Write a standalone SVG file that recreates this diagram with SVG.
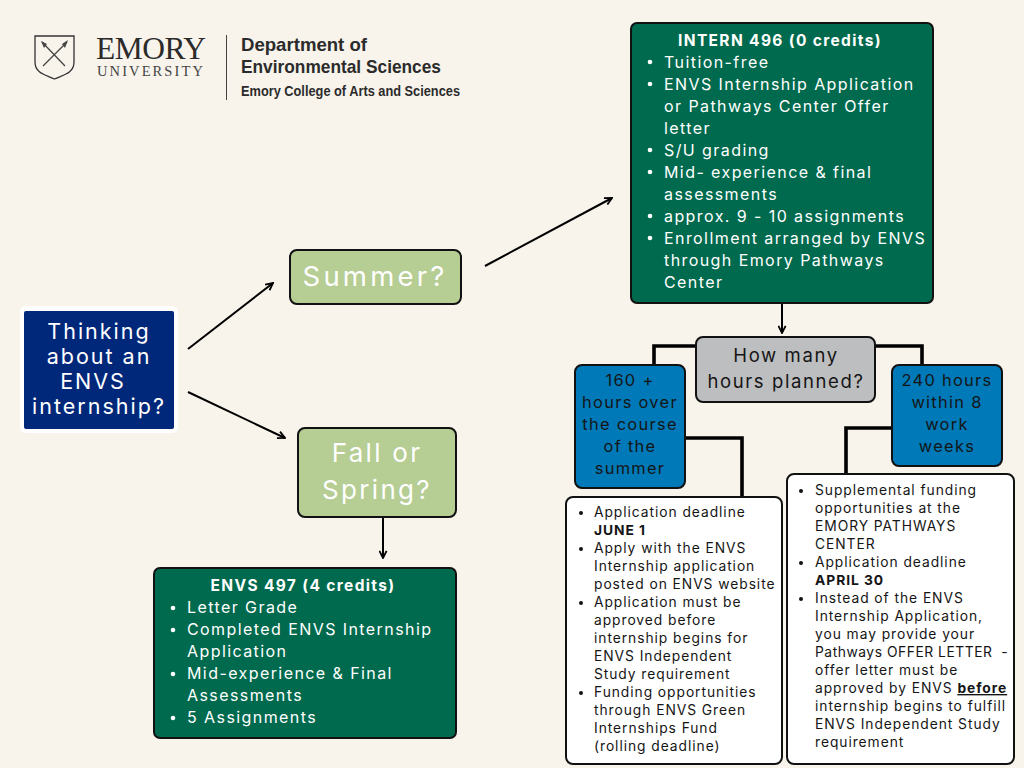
<svg xmlns="http://www.w3.org/2000/svg" width="1024" height="768" viewBox="0 0 1024 768">
<style>
text{font-family:"Inter","Noto Sans",sans-serif}
.c{text-anchor:middle}
.box{stroke:#111;stroke-width:2}
.wht{fill:#fff}
.t13{font-size:13.8px;letter-spacing:.95px;fill:#151515}
.t16{font-size:16px;letter-spacing:1.42px;fill:#fff}
.tb{font-size:15.5px;font-weight:700;letter-spacing:1.35px;fill:#fff}
.t18{font-size:18.5px;letter-spacing:1.6px;fill:#151515}
.t16k{font-size:16.4px;letter-spacing:1.3px;fill:#151515}
.ln{fill:none;stroke:#000;stroke-width:2}
.th{fill:none;stroke:#000;stroke-width:3.6}
.b{font-weight:700}
.logo{font-family:"Liberation Sans",sans-serif;font-weight:700;fill:#2b2b2b}
.ser{font-family:"Liberation Serif",serif}
</style>
<defs>
<marker id="a" viewBox="0 0 10 10" refX="9" refY="5" markerWidth="9" markerHeight="9" markerUnits="userSpaceOnUse" orient="auto"><path d="M1 1L9 5L1 9" fill="none" stroke="#000" stroke-width="2"/></marker>
</defs>
<rect width="1024" height="768" fill="#f8f4ec"/>
<g id="logo">
<path d="M35 36H74V62C74 74 62 75 54.500 79C47 75 35 74 35 62Z" fill="none" stroke="#333" stroke-width="1.300"/>
<path d="M42 42L65 66M67 42L43 66" fill="none" stroke="#444" stroke-width="1.300"/>
<path d="M41 41L47 44L44 48ZM68 40L62 44L65 48Z" fill="#444"/>
<text class="ser" x="96" y="59" font-size="31.500" letter-spacing="-.5" fill="#2b2b2b">EMORY</text>
<text class="ser" x="97" y="76" font-size="14.500" letter-spacing="2.100" fill="#444">UNIVERSITY</text>
<path d="M226.500 35V100" stroke="#444" stroke-width="1"/>
<text class="logo" x="241" y="51" font-size="19" textLength="126" lengthAdjust="spacingAndGlyphs">Department of</text>
<text class="logo" x="241" y="73" font-size="19" textLength="200" lengthAdjust="spacingAndGlyphs">Environmental Sciences</text>
<text class="logo" x="241" y="96" font-size="15.500" textLength="219" lengthAdjust="spacingAndGlyphs">Emory College of Arts and Sciences</text>
</g>
<g id="connectors">
<path class="ln" d="M188 349L273 283" marker-end="url(#a)"/>
<path class="ln" d="M188 392L285 438" marker-end="url(#a)"/>
<path class="ln" d="M485 266L612 198" marker-end="url(#a)"/>
<path class="ln" d="M383 517V558" marker-end="url(#a)"/>
<path class="ln" d="M782 304V333" marker-end="url(#a)"/>
<path class="th" d="M696 346H654V364"/>
<path class="th" d="M876 346H922V364"/>
<path class="th" d="M685 438H742V497"/>
<path class="th" d="M892 428H846V473"/>
</g>
<g id="start">
<rect x="20" y="306" width="158" height="127" rx="6" fill="#fff"/>
<rect x="24" y="311" width="150" height="118" rx="2" fill="#00287a"/>
<g class="wht" font-size="21.500" letter-spacing="2" text-anchor="middle">
<text x="99" y="339">Thinking</text>
<text x="99" y="364">about an</text>
<text x="93" y="389">ENVS</text>
<text x="99" y="414">internship?</text>
</g>
</g>
<g id="summer">
<rect class="box" x="290" y="250" width="171" height="54" rx="7" fill="#b6cd94"/>
<text class="c wht" x="375" y="286" font-size="27.500" letter-spacing="3.200">Summer?</text>
</g>
<g id="fall">
<rect class="box" x="298" y="428" width="158" height="89" rx="7" fill="#b6cd94"/>
<text class="c wht" x="377" y="462" font-size="26" letter-spacing="2.300">Fall or</text>
<text class="c wht" x="377" y="499" font-size="26" letter-spacing="2.300">Spring?</text>
</g>
<g id="envs497">
<rect class="box" x="154" y="568" width="302" height="170" rx="6" fill="#006a4e"/>
<text class="c tb" x="303" y="591">ENVS 497 (4 credits)</text>
<g class="t16">
<circle class="wht" cx="173" cy="608" r="2.300"/><text x="187" y="613">Letter Grade</text>
<circle class="wht" cx="173" cy="630" r="2.300"/><text x="187" y="635">Completed ENVS Internship</text>
<text x="187" y="657">Application</text>
<circle class="wht" cx="173" cy="674" r="2.300"/><text x="187" y="679">Mid-experience &amp; Final</text>
<text x="187" y="701">Assessments</text>
<circle class="wht" cx="173" cy="718" r="2.300"/><text x="187" y="723">5 Assignments</text>
</g>
</g>
<g id="intern496">
<rect class="box" x="631" y="23" width="302" height="280" rx="6" fill="#006a4e"/>
<text class="c tb" x="780" y="46">INTERN 496 (0 credits)</text>
<g class="t16">
<circle class="wht" cx="650" cy="62" r="2.300"/><text x="664" y="68">Tuition-free</text>
<circle class="wht" cx="650" cy="84" r="2.300"/><text x="664" y="90">ENVS Internship Application</text>
<text x="664" y="112">or Pathways Center Offer</text>
<text x="664" y="134">letter</text>
<circle class="wht" cx="650" cy="150" r="2.300"/><text x="664" y="156">S/U grading</text>
<circle class="wht" cx="650" cy="172" r="2.300"/><text x="664" y="178">Mid- experience &amp; final</text>
<text x="664" y="200">assessments</text>
<circle class="wht" cx="650" cy="216" r="2.300"/><text x="664" y="222">approx. 9 - 10 assignments</text>
<circle class="wht" cx="650" cy="238" r="2.300"/><text x="664" y="244">Enrollment arranged by ENVS</text>
<text x="664" y="266">through Emory Pathways</text>
<text x="664" y="288">Center</text>
</g>
</g>
<g id="hours">
<rect class="box" x="696" y="337" width="179" height="65" rx="7" fill="#bdbec0"/>
<text class="c t18" x="786" y="362">How many</text>
<text class="c t18" x="786" y="388">hours planned?</text>
</g>
<g id="h160">
<rect class="box" x="575" y="365" width="110" height="123" rx="7" fill="#0079b8"/>
<g class="c t16k">
<text x="630" y="386">160 +</text>
<text x="630" y="408">hours over</text>
<text x="630" y="430">the course</text>
<text x="630" y="452">of the</text>
<text x="630" y="474">summer</text>
</g>
</g>
<g id="h240">
<rect class="box" x="892" y="365" width="110" height="101" rx="7" fill="#0079b8"/>
<g class="c t16k">
<text x="947" y="386">240 hours</text>
<text x="947" y="408">within 8</text>
<text x="947" y="430">work</text>
<text x="947" y="452">weeks</text>
</g>
</g>
<g id="details160">
<rect class="box" x="566" y="497" width="216" height="267" rx="7" fill="#fff"/>
<g class="t13">
<circle cx="581" cy="513" r="2" fill="#111"/><text x="594" y="517">Application deadline</text>
<text class="b" x="594" y="535">JUNE 1</text>
<circle cx="581" cy="549" r="2" fill="#111"/><text x="594" y="553">Apply with the ENVS</text>
<text x="594" y="571">Internship application</text>
<text x="594" y="589">posted on ENVS website</text>
<circle cx="581" cy="603" r="2" fill="#111"/><text x="594" y="607">Application must be</text>
<text x="594" y="625">approved before</text>
<text x="594" y="643">internship begins for</text>
<text x="594" y="661">ENVS Independent</text>
<text x="594" y="679">Study requirement</text>
<circle cx="581" cy="693" r="2" fill="#111"/><text x="594" y="697">Funding opportunities</text>
<text x="594" y="715">through ENVS Green</text>
<text x="594" y="733">Internships Fund</text>
<text x="594" y="751">(rolling deadline)</text>
</g>
</g>
<g id="details240">
<rect class="box" x="787" y="474" width="227" height="290" rx="7" fill="#fff"/>
<g class="t13">
<circle cx="801" cy="491" r="2" fill="#111"/><text x="815" y="495">Supplemental funding</text>
<text x="815" y="513">opportunities at the</text>
<text x="815" y="531">EMORY PATHWAYS</text>
<text x="815" y="549">CENTER</text>
<circle cx="801" cy="563" r="2" fill="#111"/><text x="815" y="567">Application deadline</text>
<text class="b" x="815" y="585">APRIL 30</text>
<circle cx="801" cy="599" r="2" fill="#111"/><text x="815" y="603">Instead of the ENVS</text>
<text x="815" y="621">Internship Application,</text>
<text x="815" y="639">you may provide your</text>
<text x="815" y="657" xml:space="preserve" style="letter-spacing:.55px">Pathways OFFER LETTER  -</text>
<text x="815" y="675">offer letter must be</text>
<text x="815" y="693">approved by ENVS <tspan class="b" text-decoration="underline">before</tspan></text>
<text x="815" y="711">internship begins to fulfill</text>
<text x="815" y="729">ENVS Independent Study</text>
<text x="815" y="747">requirement</text>
</g>
</g>
</svg>
